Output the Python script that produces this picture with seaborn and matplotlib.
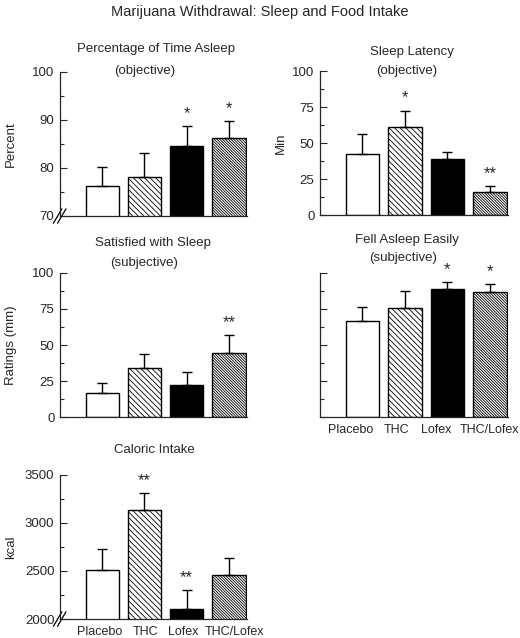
import numpy as np
import pandas as pd
import matplotlib
matplotlib.use("Agg")
import matplotlib.pyplot as plt
import matplotlib.transforms as mtransforms
import seaborn as sns

# groups shown on every panel
groups = ["Placebo", "THC", "Lofex", "THC/Lofex"]

# values (mean and top of the error bar)
asleep_mean = [76.3, 78.1, 84.6, 86.2]
asleep_top = [80.3, 83.2, 88.7, 89.7]
asleep_sig = ["", "", "*", "*"]

latency_mean = [42.4, 61.3, 38.7, 16.0]
latency_top = [56.5, 72.5, 44.0, 20.1]
latency_sig = ["", "*", "", "**"]

satisfied_mean = [16.8, 33.9, 22.3, 44.2]
satisfied_top = [23.5, 43.7, 31.3, 57.1]
satisfied_sig = ["", "", "", "**"]

easily_mean = [66.8, 75.3, 88.9, 86.8]
easily_top = [76.0, 87.5, 93.5, 92.3]
easily_sig = ["", "", "*", "*"]

kcal_mean = [2509, 3130, 2107, 2460]
kcal_top = [2725, 3306, 2298, 2637]
kcal_sig = ["", "**", "**", ""]

sns.set_style("ticks")
plt.rcParams["font.family"] = ["Liberation Sans", "DejaVu Sans"]
plt.rcParams["hatch.linewidth"] = 0.6

W, H = 520, 638
fig = plt.figure(figsize=(W / 100, H / 100), dpi=100)


def px_axes(left, top, right, bottom):
    return fig.add_axes([left / W, 1 - bottom / H, (right - left) / W, (bottom - top) / H])


def px_text(x, y, s, size, **kw):
    fig.text(x / W, 1 - y / H, s, ha="center", va="center", fontsize=size, **kw)


fills = ["white", "white", "black", "white"]
hatches = [None, "\\" * 6, None, "\\" * 12]


def panel(ax, means, tops, sig, ylim, major, minor, ylabel=None,
          show_y=True, label_shift=None, broken=False):
    df = pd.DataFrame({"group": groups, "value": means})
    sns.barplot(data=df, x="group", y="value", ax=ax, color="white",
                width=0.79, edgecolor="black", linewidth=1.0, errorbar=None)
    for patch, fc, h in zip(ax.patches, fills, hatches):
        patch.set_facecolor(fc)
        if h:
            patch.set_hatch(h)
    err = np.array(tops) - np.array(means)
    ax.errorbar(np.arange(len(groups)), means,
                yerr=[np.zeros(len(groups)), err],
                fmt="none", ecolor="black", elinewidth=1.0, capsize=3.5,
                capthick=1.0, zorder=1)
    for i, s in enumerate(sig):
        if s:
            ax.annotate(s, (i, tops[i]), xytext=(0, 9), textcoords="offset points",
                        ha="center", va="center", fontsize=12)
    ax.set_xlim(-1.0, 3.43)
    ax.set_ylim(*ylim)
    ax.set_yticks(major)
    ax.set_yticks(minor, minor=True)
    ax.tick_params(axis="y", which="major", direction="in", length=5, width=0.8,
                   labelsize=9.5, pad=4)
    ax.tick_params(axis="y", which="minor", direction="in", length=3, width=0.8)
    ax.tick_params(axis="x", length=0, labelsize=9, pad=5)
    if not show_y:
        ax.set_yticklabels([])
    if label_shift is None:
        ax.set_xticklabels([])
    else:
        # the group names sit a little off the bar centres in the original
        for lab, dx in zip(ax.get_xticklabels(), label_shift):
            lab.set_transform(lab.get_transform() +
                              mtransforms.ScaledTranslation(dx / 100, 0, fig.dpi_scale_trans))
    ax.set_xlabel("")
    ax.set_ylabel(ylabel if ylabel else "", fontsize=9.5)
    sns.despine(ax=ax)
    for sp in ax.spines.values():
        sp.set_linewidth(0.9)
    if broken:
        for dx in (0.0, 0.022):
            ax.plot([-0.035 + dx, 0.01 + dx], [-0.05, 0.05], transform=ax.transAxes,
                    color="black", lw=0.9, clip_on=False)


ax1 = px_axes(60, 72, 247, 216)
panel(ax1, asleep_mean, asleep_top, asleep_sig, (70, 100),
      [70, 80, 90, 100], [75, 85, 95], ylabel="Percent", broken=True)

ax2 = px_axes(320, 71, 508, 215)
panel(ax2, latency_mean, latency_top, latency_sig, (0, 100),
      [0, 25, 50, 75, 100], [12.5, 37.5, 62.5, 87.5], ylabel="Min")

ax3 = px_axes(60, 272.7, 247, 417.3)
panel(ax3, satisfied_mean, satisfied_top, satisfied_sig, (0, 100),
      [0, 25, 50, 75, 100], [12.5, 37.5, 62.5, 87.5], ylabel="Ratings (mm)")

ax4 = px_axes(320, 272.7, 508, 417.3)
panel(ax4, easily_mean, easily_top, easily_sig, (0, 100),
      [0, 25, 50, 75, 100], [12.5, 37.5, 62.5, 87.5], show_y=False,
      label_shift=[-11.5, -8, -11.5, 0])

ax5 = px_axes(60, 474.7, 247, 619)
panel(ax5, kcal_mean, kcal_top, kcal_sig, (2000, 3500),
      [2000, 2500, 3000, 3500], [2250, 2750, 3250], ylabel="kcal",
      label_shift=[-2.5, 1.5, -3.5, 5.5], broken=True)

# y labels placed like the reference
for ax in (ax1, ax3, ax5):
    ax.yaxis.set_label_coords(-43 / 187, 0.5)
ax2.yaxis.set_label_coords(-33 / 188, 0.5)

px_text(260, 12, "Marijuana Withdrawal: Sleep and Food Intake", 10.5)
px_text(156, 49, "Percentage of Time Asleep", 9.5)
px_text(145, 71, "(objective)", 9.5)
px_text(412, 52, "Sleep Latency", 9.5)
px_text(407, 71, "(objective)", 9.5)
px_text(153, 243, "Satisfied with Sleep", 9.5)
px_text(144, 263, "(subjective)", 9.5)
px_text(407, 240, "Fell Asleep Easily", 9.5)
px_text(403, 258, "(subjective)", 9.5)
px_text(154, 450, "Caloric Intake", 9.5)

fig.savefig("out.png", dpi=100)
